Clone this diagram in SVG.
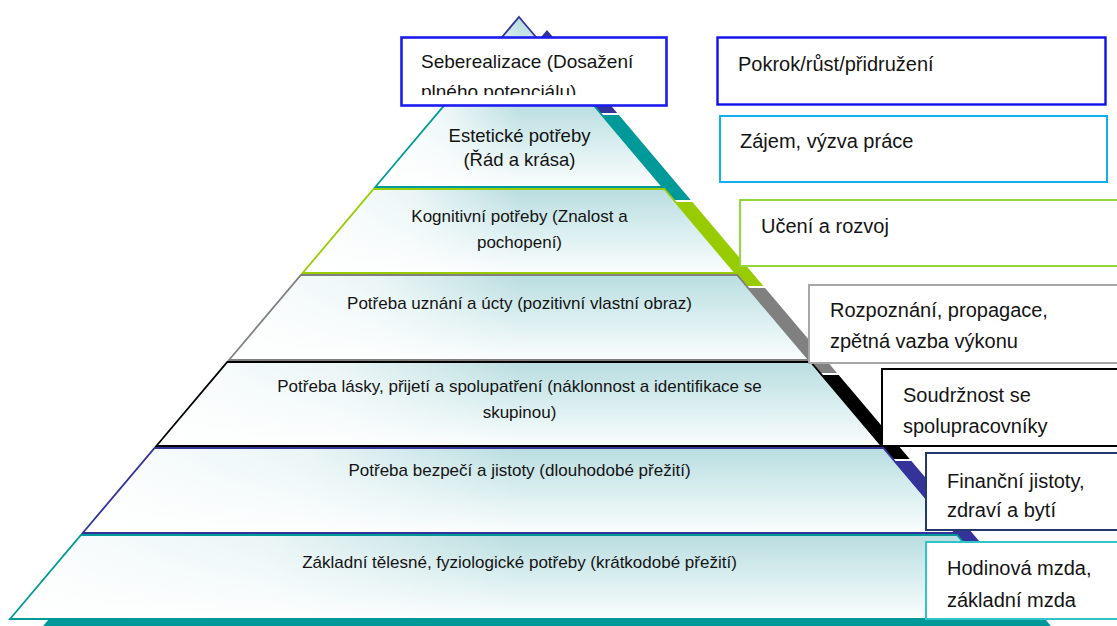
<svg xmlns="http://www.w3.org/2000/svg" width="1117" height="626" viewBox="0 0 1117 626">
<style>
.t{font-family:"Liberation Sans",Arial,sans-serif;fill:#141414}
.lt{font-size:17px;text-anchor:middle}
.bt{font-size:20px}
.box{fill:#fff}
.fv{fill:url(#gv)}
.fh{fill:url(#gh);stroke-width:1.8;stroke-linejoin:miter}
</style>
<defs>
<linearGradient id="gv" x1="0" y1="0" x2="0" y2="1">
<stop offset="0" stop-color="#b9dde0"/>
<stop offset="0.5" stop-color="#d9eeef"/>
<stop offset="1" stop-color="#fbfdfd"/>
</linearGradient>
<linearGradient id="gh" x1="0" y1="0" x2="1" y2="0">
<stop offset="0" stop-color="#fff" stop-opacity="0.95"/>
<stop offset="0.25" stop-color="#fff" stop-opacity="0.7"/>
<stop offset="0.5" stop-color="#fff" stop-opacity="0"/>
<stop offset="1" stop-color="#fff" stop-opacity="0"/>
</linearGradient>
<polygon id="p0" points="519,17 589.2,100 448.8,100"/>
<polygon id="p1" points="447.1,102 590.9,102 662.7,187 375.3,187"/>
<polygon id="p2" points="373.6,189 664.4,189 735.4,273 302.6,273"/>
<polygon id="p3" points="300.9,275 737.1,275 809,360 229,360"/>
<polygon id="p4" points="227.3,362 810.7,362 881.7,446 156.3,446"/>
<polygon id="p5" points="154.6,448 883.4,448 955.3,533 82.7,533"/>
<polygon id="p6" points="81,535 957,535 1028,619 10,619"/>
<clipPath id="cs"><rect x="401" y="37" width="265" height="58"/></clipPath>
</defs>
<rect width="1117" height="626" fill="#fff"/>
<g id="pyramid-sides">
<use href="#p0" transform="translate(28,13)" fill="#333399"/>
<use href="#p1" transform="translate(28,13)" fill="#009999"/>
<use href="#p2" transform="translate(28,13)" fill="#99cc00"/>
<use href="#p3" transform="translate(28,13)" fill="#808080"/>
<use href="#p4" transform="translate(28,13)" fill="#000000"/>
<use href="#p5" transform="translate(28,13)" fill="#333399"/>
<use href="#p6" transform="translate(28,13)" fill="#009999"/>
</g>
<g id="layer-apex">
<use href="#p0" class="fv"/><use href="#p0" class="fh" stroke="#333399"/>
</g>
<g id="layer-estetic">
<use href="#p1" class="fv"/><use href="#p1" class="fh" stroke="#009999"/>
<text class="t lt" x="519.5" y="142" style="font-size:18.5px">Estetické potřeby</text>
<text class="t lt" x="519.5" y="166" style="font-size:18.5px">(Řád a krása)</text>
</g>
<g id="layer-cognitive">
<use href="#p2" class="fv"/><use href="#p2" class="fh" stroke="#99cc00"/>
<text class="t lt" x="519.5" y="222">Kognitivní potřeby (Znalost a</text>
<text class="t lt" x="519.5" y="248">pochopení)</text>
</g>
<g id="layer-esteem">
<use href="#p3" class="fv"/><use href="#p3" class="fh" stroke="#808080"/>
<text class="t lt" x="519.5" y="309">Potřeba uznání a úcty (pozitivní vlastní obraz)</text>
</g>
<g id="layer-love">
<use href="#p4" class="fv"/><use href="#p4" class="fh" stroke="#000000"/>
<text class="t lt" x="519.5" y="392">Potřeba lásky, přijetí a spolupatření (náklonnost a identifikace se</text>
<text class="t lt" x="519.5" y="418">skupinou)</text>
</g>
<g id="layer-safety">
<use href="#p5" class="fv"/><use href="#p5" class="fh" stroke="#333399"/>
<text class="t lt" x="519.5" y="476">Potřeba bezpečí a jistoty (dlouhodobé přežití)</text>
</g>
<g id="layer-basic">
<use href="#p6" class="fv"/><use href="#p6" class="fh" stroke="#009999"/>
<text class="t lt" x="519.5" y="568">Základní tělesné, fyziologické potřeby (krátkodobé přežití)</text>
</g>
<g id="box-seberealizace">
<rect class="box" x="401.5" y="37.5" width="265" height="68" stroke="#1c1cf0" stroke-width="2.6"/>
<g clip-path="url(#cs)">
<text class="t" x="421" y="68" style="font-size:19px">Seberealizace (Dosažení</text>
<text class="t" x="421" y="98" style="font-size:19px">plného potenciálu)</text>
</g>
</g>
<g id="box-pokrok">
<rect class="box" x="717.5" y="37.5" width="388" height="67" stroke="#1010e8" stroke-width="2.4"/>
<text class="t bt" x="738" y="71">Pokrok/růst/přidružení</text>
</g>
<g id="box-zajem">
<rect class="box" x="720" y="116" width="387" height="66" stroke="#10b0f0" stroke-width="2"/>
<text class="t bt" x="740" y="148">Zájem, výzva práce</text>
</g>
<g id="box-uceni">
<rect class="box" x="740" y="200" width="390" height="66" stroke="#92d83a" stroke-width="2"/>
<text class="t bt" x="761" y="233">Učení a rozvoj</text>
</g>
<g id="box-rozpoznani">
<rect class="box" x="809" y="285" width="320" height="78" stroke="#a8a8a8" stroke-width="2"/>
<text class="t bt" x="830" y="317">Rozpoznání, propagace,</text>
<text class="t bt" x="830" y="348">zpětná vazba výkonu</text>
</g>
<g id="box-soudrznost">
<rect class="box" x="882" y="369" width="250" height="77" stroke="#000" stroke-width="2"/>
<text class="t bt" x="903" y="402">Soudržnost se</text>
<text class="t bt" x="903" y="433">spolupracovníky</text>
</g>
<g id="box-financni">
<rect class="box" x="926" y="453" width="200" height="77" stroke="#25386c" stroke-width="2"/>
<text class="t bt" x="947" y="488">Finanční jistoty,</text>
<text class="t bt" x="947" y="517">zdraví a bytí</text>
</g>
<g id="box-hodinova">
<rect class="box" x="926" y="542" width="200" height="77" stroke="#2ec4ca" stroke-width="2"/>
<text class="t bt" x="947" y="575">Hodinová mzda,</text>
<text class="t bt" x="947" y="607">základní mzda</text>
</g>
</svg>
